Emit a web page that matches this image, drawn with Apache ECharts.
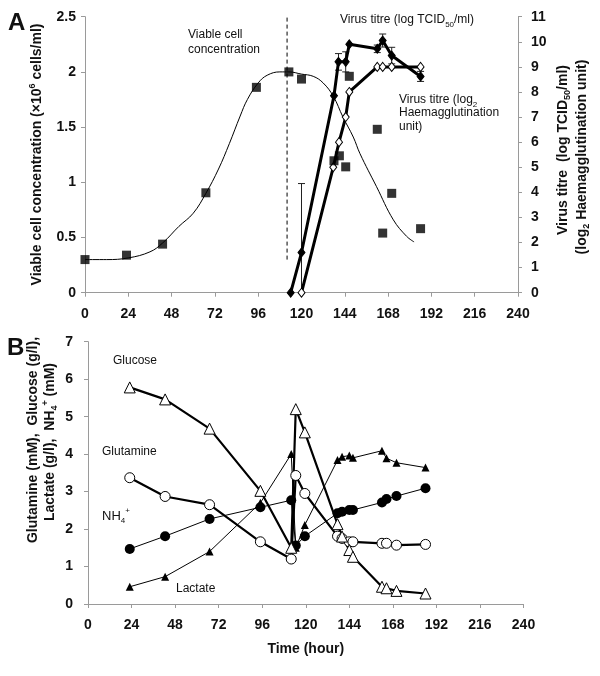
<!DOCTYPE html>
<html>
<head>
<meta charset="utf-8">
<script src="https://cdn.jsdelivr.net/npm/echarts@6/dist/echarts.min.js"></script>
<style>
html,body{margin:0;padding:0;background:#fff;}
#c{width:600px;height:676px;}
</style>
</head>
<body>
<div id="c"></div>
<script>
// ---------- Panel A data ----------
var cellTimes = [0, 23, 43, 67, 95, 113, 120, 138, 141, 144.5, 146.5, 162, 165, 170, 186];
var cellValues = [0.30, 0.34, 0.44, 0.905, 1.86, 2.0, 1.935, 1.195, 1.24, 1.14, 1.96, 1.48, 0.54, 0.90, 0.58];
var fitTimes = [0, 12, 24, 36, 43, 52, 60, 67, 74, 80, 86, 90, 96, 101, 108, 113, 120, 126.5, 132, 137.6, 143, 148.7, 152.4, 161.6, 170.9, 178.3, 182.4];
var fitValues = [0.30, 0.30, 0.315, 0.37, 0.45, 0.60, 0.72, 0.90, 1.12, 1.35, 1.60, 1.75, 1.90, 1.97, 2.0, 2.0, 1.98, 1.96, 1.90, 1.78, 1.59, 1.41, 1.26, 0.96, 0.66, 0.51, 0.46];
var infectionLineTimes = [112, 112];
var infectionLineValues = [0.3, 2.5];
var tcidTimes = [114, 120, 138, 140.5, 144.5, 146.5, 162, 165, 170, 186];
var tcidValues = [0, 1.6, 7.85, 9.2, 9.2, 9.9, 9.72, 10.05, 9.45, 8.62];
var tcidErrors = [0, 2.75, 0, 0.33, 0.4, 0, 0.15, 0.26, 0.33, 0.2];
var haTimes = [120, 137.6, 140.8, 144.5, 146.5, 162, 165, 170, 186];
var haValues = [0, 5, 6, 7, 8, 9, 9, 9, 9];
var xTicksA = [0, 24, 48, 72, 96, 120, 144, 168, 192, 216, 240];

// ---------- Panel B data ----------
var bTimes = [23, 42.5, 67, 95, 112, 114.5, 119.5, 137.5, 140, 144, 146, 162, 164.5, 170, 186];
var glucose = [5.78, 5.46, 4.68, 3.02, 1.50, 5.20, 4.58, 2.13, 1.80, 1.44, 1.26, 0.46, 0.42, 0.35, 0.28];
var glutamine = [3.37, 2.87, 2.65, 1.66, 1.20, 3.43, 2.95, 1.81, 1.75, 1.66, 1.66, 1.62, 1.62, 1.57, 1.59];
var ammonium = [1.47, 1.81, 2.27, 2.58, 2.77, 1.56, 1.81, 2.42, 2.46, 2.51, 2.51, 2.71, 2.80, 2.88, 3.09];
var lactate = [0.46, 0.73, 1.40, 2.70, 4.00, 1.50, 2.11, 3.84, 3.93, 3.96, 3.90, 4.09, 3.89, 3.77, 3.64];

function zip(xs, ys) { return xs.map(function (x, i) { return [x, ys[i]]; }); }

var FONT = "'Liberation Sans', Arial, sans-serif";
var AX = '#9a9a9a';
var TXT = '#111';

function xAxisCfg(grid, name) {
  return {
    type: 'value', gridIndex: grid, min: 0, max: 240, interval: 24,
    axisLine: { show: true, lineStyle: { color: AX, width: 1 } },
    axisTick: { show: true, length: 4, lineStyle: { color: AX } },
    splitLine: { show: false },
    axisLabel: { color: TXT, fontFamily: FONT, fontWeight: 'bold', fontSize: 14, margin: 14 },
    name: name || '', nameLocation: 'middle', nameGap: 38,
    nameTextStyle: { color: TXT, fontFamily: FONT, fontWeight: 'bold', fontSize: 14 }
  };
}
function yAxisCfg(grid, pos, min, max, interval, margin) {
  return {
    type: 'value', gridIndex: grid, position: pos, min: min, max: max, interval: interval,
    axisLine: { show: true, lineStyle: { color: AX, width: 1 } },
    axisTick: { show: true, length: 4, lineStyle: { color: AX } },
    splitLine: { show: false },
    axisLabel: { color: TXT, fontFamily: FONT, fontWeight: 'bold', fontSize: 14, margin: margin }
  };
}

var supSub = {
  sup: { fontSize: 9, fontWeight: 'bold', fontFamily: FONT, color: TXT, verticalAlign: 'top', lineHeight: 18 },
  sub: { fontSize: 9, fontWeight: 'bold', fontFamily: FONT, color: TXT, verticalAlign: 'bottom', lineHeight: 18 },
  subn: { fontSize: 8, fontFamily: FONT, color: TXT, verticalAlign: 'bottom', lineHeight: 16 },
  supn: { fontSize: 8, fontFamily: FONT, color: TXT, verticalAlign: 'top', lineHeight: 16 }
};

function gText(x, y, text, opts) {
  opts = opts || {};
  return {
    type: 'text', x: x, y: y, rotation: opts.rot || 0, z: 100,
    style: {
      text: text, fill: opts.color || TXT,
      font: (opts.bold ? 'bold ' : '') + (opts.size || 12) + 'px ' + FONT,
      fontSize: opts.size || 12, fontWeight: opts.bold ? 'bold' : 'normal', fontFamily: FONT,
      textAlign: opts.align || 'left', align: opts.align || 'left',
      textVerticalAlign: 'middle', verticalAlign: 'middle',
      lineHeight: opts.lh || 18,
      rich: supSub
    }
  };
}

var errData = tcidTimes.map(function (t, i) {
  return [t, Math.max(0, tcidValues[i] - tcidErrors[i]), tcidValues[i] + tcidErrors[i]];
}).filter(function (d, i) { return tcidErrors[i] > 0; });

var chart = echarts.init(document.getElementById('c'), null, { renderer: 'canvas' });
chart.setOption({
  animation: false,
  backgroundColor: '#fff',
  grid: [
    { left: 85, width: 433, top: 16.7, height: 276 },
    { left: 88, width: 435.5, top: 341.7, height: 262.3 }
  ],
  xAxis: [xAxisCfg(0), xAxisCfg(1, 'Time (hour)')],
  yAxis: [
    yAxisCfg(0, 'left', 0, 2.5, 0.5, 9),
    yAxisCfg(0, 'right', 0, 11, 1, 13),
    yAxisCfg(1, 'left', 0, 7, 1, 15)
  ],
  graphic: [
    gText(8, 23, 'A', { bold: true, size: 24 }),
    gText(7, 348, 'B', { bold: true, size: 24 }),
    gText(37, 154.5, 'Viable cell concentration (×10{sup|6} cells/ml)', { bold: true, size: 14, rot: Math.PI / 2, align: 'center' }),
    gText(563, 150, 'Virus titre  (log TCID{sub|50}/ml)', { bold: true, size: 14, rot: Math.PI / 2, align: 'center' }),
    gText(582, 157, '(log{sub|2} Haemagglutination unit)', { bold: true, size: 14, rot: Math.PI / 2, align: 'center' }),
    gText(33, 440, 'Glutamine (mM),  Glucose (g/l),', { bold: true, size: 14, rot: Math.PI / 2, align: 'center' }),
    gText(50, 442, 'Lactate (g/l),  NH{sub|4}{sup|+} (mM)', { bold: true, size: 14, rot: Math.PI / 2, align: 'center' }),
    gText(188, 35, 'Viable cell', { size: 12 }),
    gText(188, 50, 'concentration', { size: 12 }),
    gText(340, 20, 'Virus titre (log TCID{subn|50}/ml)', { size: 12 }),
    gText(399, 100, 'Virus titre (log{subn|2}', { size: 12 }),
    gText(399, 113, 'Haemagglutination', { size: 12 }),
    gText(399, 127, 'unit)', { size: 12 }),
    gText(113, 361, 'Glucose', { size: 12 }),
    gText(102, 452, 'Glutamine', { size: 12 }),
    gText(102, 516, 'NH{subn|4}{supn|+}', { size: 13 }),
    gText(176, 589, 'Lactate', { size: 12 })
  ],
  series: [
    {
      type: 'line', name: 'fit', xAxisIndex: 0, yAxisIndex: 0, data: zip(fitTimes, fitValues),
      smooth: 0.4, showSymbol: false, symbol: 'none', lineStyle: { color: '#000', width: 1 }, z: 2
    },
    {
      type: 'line', name: 'infection', xAxisIndex: 0, yAxisIndex: 0, data: zip(infectionLineTimes, infectionLineValues),
      symbol: 'none', lineStyle: { color: '#000', width: 1, type: [4, 3] }, z: 2
    },
    {
      type: 'custom', name: 'err', xAxisIndex: 0, yAxisIndex: 1, data: errData, z: 3,
      encode: { x: 0, y: [1, 2] },
      renderItem: function (params, api) {
        var x = api.value(0);
        var lo = api.coord([x, api.value(1)]);
        var hi = api.coord([x, api.value(2)]);
        var hw = 3.5;
        var st = { stroke: '#222', lineWidth: 1 };
        return {
          type: 'group', children: [
            { type: 'line', shape: { x1: lo[0], y1: lo[1], x2: hi[0], y2: hi[1] }, style: st },
            { type: 'line', shape: { x1: hi[0] - hw, y1: hi[1], x2: hi[0] + hw, y2: hi[1] }, style: st },
            { type: 'line', shape: { x1: lo[0] - hw, y1: lo[1], x2: lo[0] + hw, y2: lo[1] }, style: st }
          ]
        };
      }
    },
    {
      type: 'line', name: 'HA', xAxisIndex: 0, yAxisIndex: 1, data: zip(haTimes, haValues),
      symbol: 'diamond', symbolSize: [7, 9], showAllSymbol: true,
      itemStyle: { color: '#fff', borderColor: '#000', borderWidth: 1 },
      lineStyle: { color: '#000', width: 3 }, z: 4
    },
    {
      type: 'line', name: 'TCID50', xAxisIndex: 0, yAxisIndex: 1, data: zip(tcidTimes, tcidValues),
      symbol: 'diamond', symbolSize: [7, 9], showAllSymbol: true,
      itemStyle: { color: '#000', borderColor: '#000', borderWidth: 1 },
      lineStyle: { color: '#000', width: 3 }, z: 5
    },
    {
      type: 'scatter', name: 'cells', xAxisIndex: 0, yAxisIndex: 0, data: zip(cellTimes, cellValues),
      symbol: 'rect', symbolSize: 9, itemStyle: { color: '#000' }, z: 6
    },
    {
      type: 'line', name: 'Lactate', xAxisIndex: 1, yAxisIndex: 2, data: zip(bTimes, lactate),
      symbol: 'triangle', symbolSize: 8, showAllSymbol: true,
      itemStyle: { color: '#000', borderColor: '#000', borderWidth: 0 },
      lineStyle: { color: '#000', width: 1 }, z: 3
    },
    {
      type: 'line', name: 'NH4', xAxisIndex: 1, yAxisIndex: 2, data: zip(bTimes, ammonium),
      symbol: 'circle', symbolSize: 10, showAllSymbol: true,
      itemStyle: { color: '#000', borderColor: '#000', borderWidth: 0 },
      lineStyle: { color: '#000', width: 1 }, z: 3
    },
    {
      type: 'line', name: 'Glutamine', xAxisIndex: 1, yAxisIndex: 2, data: zip(bTimes, glutamine),
      symbol: 'circle', symbolSize: 10, showAllSymbol: true,
      itemStyle: { color: '#fff', borderColor: '#000', borderWidth: 1 },
      lineStyle: { color: '#000', width: 2.2 }, z: 4
    },
    {
      type: 'line', name: 'Glucose', xAxisIndex: 1, yAxisIndex: 2, data: zip(bTimes, glucose),
      symbol: 'triangle', symbolSize: 11, showAllSymbol: true,
      itemStyle: { color: '#fff', borderColor: '#000', borderWidth: 1 },
      lineStyle: { color: '#000', width: 2.2 }, z: 4
    }
  ]
});
</script>
</body>
</html>
